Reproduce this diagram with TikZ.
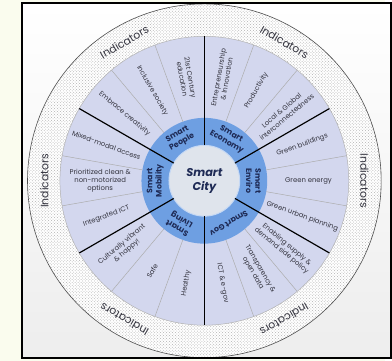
\documentclass[tikz,border=0pt]{standalone}
\usepackage{fontspec}
\setmainfont{Poppins}
\usetikzlibrary{patterns}
\definecolor{cream}{HTML}{FAFCEE}
\definecolor{lav}{HTML}{D3D7EE}
\definecolor{ringblue}{HTML}{6E9FE2}
\definecolor{hub}{HTML}{DFE4EC}
\definecolor{navy}{HTML}{1E2A55}
\definecolor{ink}{HTML}{34343F}
\tikzstyle{sub} = [font=\fontsize{7}{8.4}\selectfont, text=ink, align=center, inner sep=0pt]
\tikzstyle{pillar} = [font=\fontsize{8}{9.4}\selectfont\bfseries, text=navy, align=center, inner sep=0pt]
\tikzstyle{ind} = [font=\fontsize{11}{11}\selectfont, text=ink, inner sep=0pt]
\tikzstyle{spoke} = [line width=1.2pt, black]
\tikzstyle{split} = [line width=0.5pt, gray!65]

\begin{document}
\begin{tikzpicture}[x=1pt, y=1pt]
  \fill[cream] (-208,-183) rectangle (184,184);
  \shade[top color=white, bottom color=gray!14] (-185.5,-180.5) rectangle (190,180.5);

  % rings
  \fill[white] (0,0) circle (180);
  \fill[pattern=crosshatch dots, pattern color=gray!60] (0,0) circle (180);
  \draw[gray!60!black, line width=0.6pt] (0,0) circle (180);
  \fill[lav] (0,0) circle (147);
  \draw[gray!60, line width=0.5pt] (0,0) circle (147);
  \fill[ringblue] (0,0) circle (64);
  \fill[hub] (0,0) circle (36);
  \draw[ringblue!40, line width=1pt] (0,0) circle (36);

  % thin splits
  \draw[split] (10:64) -- (10:147);
  \draw[split] (350:64) -- (350:147);
  \draw[split] (50:64) -- (50:147);
  \draw[split] (70:64) -- (70:147);
  \draw[split] (110:64) -- (110:147);
  \draw[split] (130:64) -- (130:147);
  \draw[split] (170:64) -- (170:147);
  \draw[split] (190:64) -- (190:147);
  \draw[split] (230:64) -- (230:147);
  \draw[split] (250:64) -- (250:147);
  \draw[split] (290:64) -- (290:147);
  \draw[split] (310:64) -- (310:147);

  % spokes
  \draw[spoke] (30:36) -- (30:147);
  \draw[spoke] (90:36) -- (90:147);
  \draw[spoke] (150:36) -- (150:147);
  \draw[spoke] (210:36) -- (210:147);
  \draw[spoke] (270:36) -- (270:147);
  \draw[spoke] (330:36) -- (330:147);

  \node (c) at (0,0) [font=\fontsize{11.5}{14}\selectfont\bfseries\itshape, text=navy, align=center, inner sep=0pt] {Smart\\City};

  \node (m1) at (120:50) [pillar, rotate=30] {Smart\\People};
  \node (m2) at (60:50) [pillar, rotate=-30] {Smart\\Economy};
  \node (m3) at (0:50) [pillar, rotate=-90] {Smart\\Enviro};
  \node (m4) at (300:50) [pillar, rotate=-150] {Smart Gov};
  \node (m5) at (240:50) [pillar, rotate=150] {Smart\\Living};
  \node (m6) at (180:50) [pillar, rotate=90] {Smart\\Mobility};

  \node (s1) at (0:106) [sub] {Green energy};
  \node (s2) at (20:106) [sub, rotate=20] {Green buildings};
  \node (s3) at (40:106) [sub, rotate=40] {Local \& Global\\interconnectedness};
  \node (s4) at (60:106) [sub, rotate=60] {Productivity};
  \node (s5) at (80:106) [sub, rotate=80] {Entrepreneurship\\\& Innovation};
  \node (s6) at (100:106) [sub, rotate=-80] {21st Century\\education};
  \node (s7) at (120:106) [sub, rotate=-60] {Inclusive society};
  \node (s8) at (140:106) [sub, rotate=-40] {Embrace creativity};
  \node (s9) at (160:106) [sub, rotate=-20] {Mixed-modal access};
  \node (s10) at (180:106) [sub] {Prioritized clean \&\\non-motorized\\options};
  \node (s11) at (200:106) [sub, rotate=20] {Integrated ICT};
  \node (s12) at (220:106) [sub, rotate=40] {Culturally vibrant\\\& happy!};
  \node (s13) at (240:106) [sub, rotate=60] {Safe};
  \node (s14) at (260:106) [sub, rotate=80] {Healthy};
  \node (s15) at (280:106) [sub, rotate=-80] {ICT \& e-gov};
  \node (s16) at (300:106) [sub, rotate=-60] {Transparency \&\\open data};
  \node (s17) at (320:106) [sub, rotate=-40] {Enabling supply \&\\demand side policy};
  \node (s18) at (340:106) [sub, rotate=-20] {Green urban planning};

  \node (i1) at (0:163) [ind, rotate=-90] {Indicators};
  \node (i2) at (60:163) [ind, rotate=-30] {Indicators};
  \node (i3) at (120:163) [ind, rotate=30] {Indicators};
  \node (i4) at (180:163) [ind, rotate=90] {Indicators};
  \node (i5) at (240:163) [ind, rotate=150] {Indicators};
  \node (i6) at (300:163) [ind, rotate=-150] {Indicators};

  \draw[line width=2pt, black] (-185.5,-180.5) rectangle (190,180.5);
\end{tikzpicture}
\end{document}
